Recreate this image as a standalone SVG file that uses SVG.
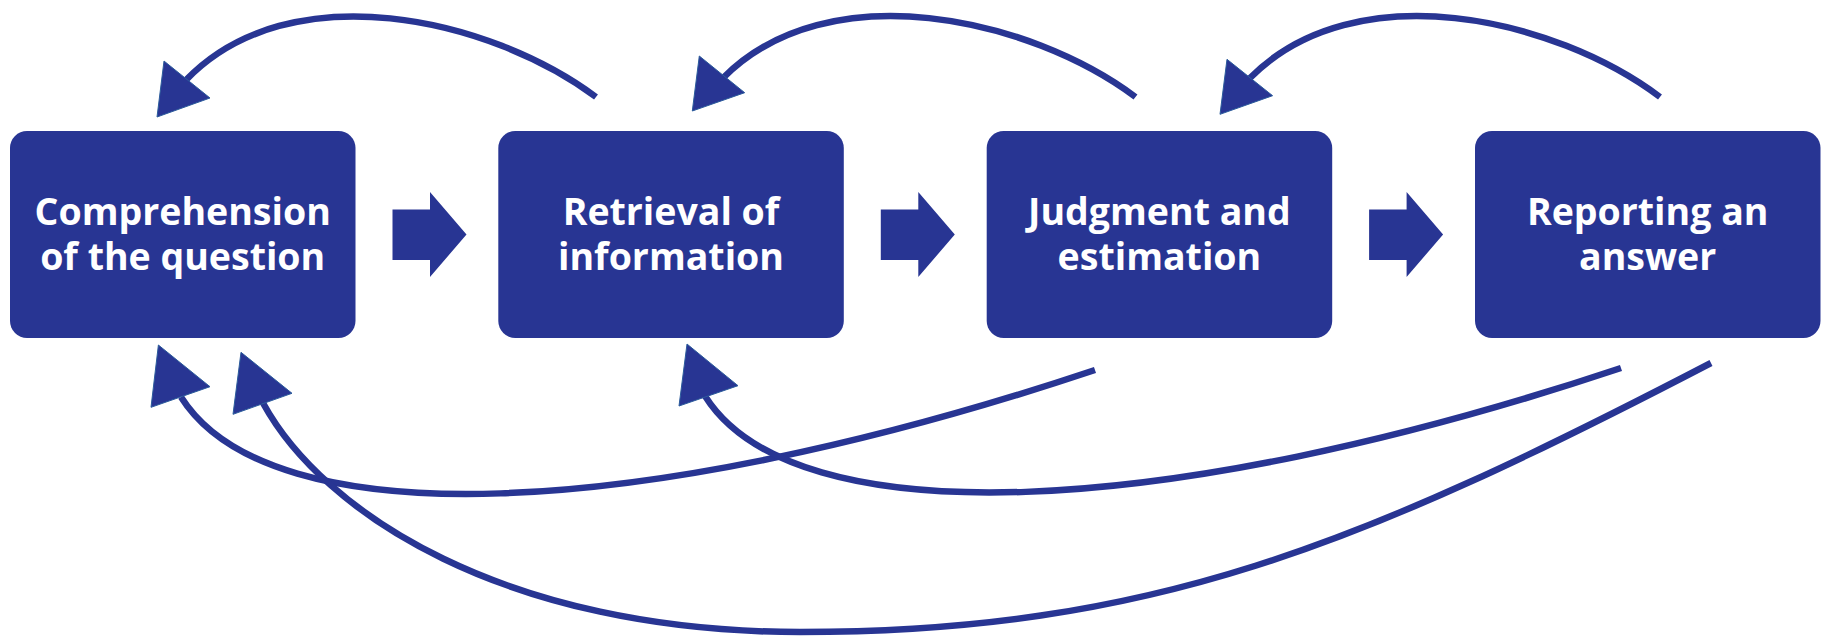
<svg xmlns="http://www.w3.org/2000/svg" width="1827" height="636" viewBox="0 0 1827 636">
<style>
.box{fill:#283593;}
.lbl{fill:#ffffff;font-family:"Open Sans","Noto Sans",sans-serif;font-weight:700;font-size:37.5px;text-anchor:middle;}
.con{fill:none;stroke:#283593;stroke-width:6.5;}
.head{fill:#283593;stroke:#2b5c9c;stroke-width:1;}
.blk{fill:#283593;}
</style>
<rect width="1827" height="636" fill="#ffffff"/>
<g id="node-comprehension">
<rect class="box" x="10" y="131" width="345.5" height="207" rx="17"/>
<text class="lbl" x="182.7" y="224.5">Comprehension</text>
<text class="lbl" x="182.7" y="269.5">of the question</text>
</g>
<g id="node-retrieval">
<rect class="box" x="498.3" y="131" width="345.5" height="207" rx="17"/>
<text class="lbl" x="671" y="224.5">Retrieval of</text>
<text class="lbl" x="671" y="269.5">information</text>
</g>
<g id="node-judgment">
<rect class="box" x="986.7" y="131" width="345.5" height="207" rx="17"/>
<text class="lbl" x="1159.4" y="224.5">Judgment and</text>
<text class="lbl" x="1159.4" y="269.5">estimation</text>
</g>
<g id="node-reporting">
<rect class="box" x="1475" y="131" width="345.5" height="207" rx="17"/>
<text class="lbl" x="1647.7" y="224.5">Reporting an</text>
<text class="lbl" x="1647.7" y="269.5">answer</text>
</g>
<g id="connectors">
<polygon class="blk" points="392.5,209.5 430,209.5 430,192 466.5,234.5 430,277 430,260 392.5,260"/>
<polygon class="blk" points="880.8,209.5 918.3,209.5 918.3,192 954.8,234.5 918.3,277 918.3,260 880.8,260"/>
<polygon class="blk" points="1369.1,209.5 1406.6,209.5 1406.6,192 1443.1,234.5 1406.6,277 1406.6,260 1369.1,260"/>
<path class="con" d="M596 97 C490 18 290 -28 186 80"/>
<polygon class="head" points="157,117 164,61 210,98"/>
<path class="con" d="M1135.5 97 C1030 18 828 -28 723 78"/>
<polygon class="head" points="692.3,111 699.3,56 744.7,92.7"/>
<path class="con" d="M1660 97 C1555 18 1355 -28 1250 78"/>
<polygon class="head" points="1220,114.3 1227,59.3 1272.6,95.7"/>
<path class="con" d="M1095 370 C640 522 270 538 181 397"/>
<polygon class="head" points="158.4,345 151,407.3 210,386.7"/>
<path class="con" d="M1621 368 C1166 520 794 537 705 396"/>
<polygon class="head" points="687,344 679,406 738,385.7"/>
<path class="con" d="M1711 363 C1361 545 1150 632 800 632 C505 632 323 513 263 403"/>
<polygon class="head" points="241,352.3 233,414.3 292,393.3"/>
</g>
</svg>
